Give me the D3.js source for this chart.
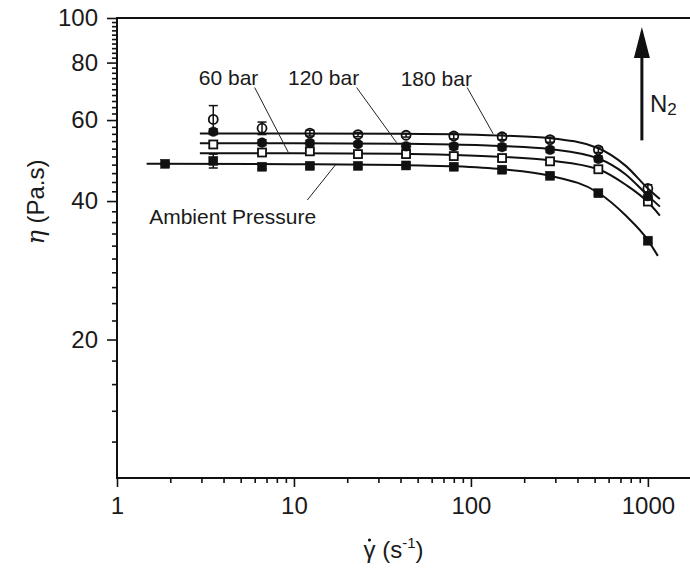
<!DOCTYPE html>
<html>
<head>
<meta charset="utf-8">
<script src="https://cdn.jsdelivr.net/npm/d3@7"></script>
<style>
  html, body { margin: 0; padding: 0; background: #fff; }
  svg { display: block; }
  text { font-family: "Liberation Sans", Arial, Helvetica, sans-serif; fill: #1a1a1a; }
</style>
</head>
<body>
<script>
// Shear rates (1/s) at which viscosity was measured
const shearRates = [1.87, 3.5, 6.6, 12.3, 23, 43, 80, 150, 280, 525, 1000];

// Measured viscosity (Pa.s) for each pressure condition
const etaAmbient = [48.2, 48.9, 47.5, 47.7, 47.7, 47.8, 47.5, 46.8, 45.4, 41.6, 32.8];
const eta60 = [null, 53.1, 51.0, 51.3, 50.6, 50.6, 50.1, 49.6, 48.8, 46.9, 39.9];
const eta120 = [null, 56.6, 53.6, 53.5, 53.2, 52.6, 52.6, 52.4, 51.7, 49.4, 41.0];
const eta180 = [null, 60.2, 57.6, 56.2, 55.8, 55.6, 55.4, 55.2, 54.4, 51.7, 42.6];

// Error bar half-widths (Pa.s)
const errAmbient = [0.3, 1.7, 0.5, 0.5, 0.5, 0.5, 0.5, 0.5, 0.4, 0.4, 0.4];
const err60 = [null, 0.8, 0.8, 0.6, 0.6, 0.6, 0.6, 0.7, 0.6, 0.6, 0.6];
const err120 = [null, 0.8, 0.8, 0.7, 0.6, 0.8, 0.8, 0.8, 0.7, 0.7, 0.8];
const err180 = [null, 4.3, 1.8, 0.8, 0.6, 0.5, 0.8, 0.8, 0.7, 0.7, 0.8];

// Model fit curves
const fitRatesAmbient = [1.47, 10, 40, 80, 150, 280, 525, 750, 1000, 1138];
const fitAmbient = [48.2, 48.1, 47.9, 47.6, 46.9, 45.4, 41.7, 37.2, 32.9, 30.4];
const fitRatesPressure = [2.94, 10, 40, 80, 150, 280, 525, 750, 1000, 1169];
const fit60 = [50.8, 50.8, 50.7, 50.4, 49.9, 49.0, 46.9, 43.4, 39.8, 37.2];
const fit120 = [53.4, 53.4, 53.3, 53.1, 52.7, 51.9, 49.5, 45.7, 41.1, 38.9];
const fit180 = [56.1, 56.1, 56.0, 55.9, 55.5, 54.8, 52.1, 47.7, 42.6, 40.4];

// Axis ticks
const xMajorTicks = [1, 10, 100, 1000];
const xMinorTicks = [2, 3, 4, 5, 6, 7, 8, 9, 20, 30, 40, 50, 60, 70, 80, 90,
                     200, 300, 400, 500, 600, 700, 800, 900];
const yMajorTicks = [20, 40, 60, 80, 100];
const yMinorTicks = [12, 14, 16, 18, 22, 24, 26, 28, 30, 32, 34, 36, 38, 42, 44, 46, 48,
                     50, 52, 54, 56, 58, 62, 64, 66, 68, 70, 72, 74, 76, 78, 82, 84, 86,
                     88, 90, 92, 94, 96, 98];

// Curve labels: text, text anchor point, leader start, leader end (data units)
const curveLabels = ["60 bar", "120 bar", "180 bar", "Ambient Pressure"];
const labelAt = [[2.9, 71.5], [9.25, 71.5], [40.1, 71.2], [1.52, 35.7]];
const leaderFrom = [[6.0, 70.6], [22.6, 70.6], [95.3, 70.6], [11.9, 40.2]];
const leaderTo = [[9.3, 51.0], [38.0, 53.6], [133.6, 56.0], [17.2, 48.0]];

// Pressure arrow (N2)
const arrowRate = 925;
const arrowEta = [54.2, 95.6];

const W = 690, H = 570;
const svg = d3.select("body").append("svg").attr("width", W).attr("height", H);

const x = d3.scaleLog().domain([1, 1730]).range([117, 690]);
const y = d3.scaleLog().domain([10, 100]).range([478, 18]);

const font = '"Liberation Sans", Arial, Helvetica, sans-serif';

// ---- axes ----
function styleAxis(g) {
  g.selectAll("path.domain").remove();
  g.selectAll(".tick line").attr("stroke", "#111").attr("stroke-width", 1.6);
  g.selectAll(".tick text").attr("font-size", 24).attr("font-family", font).attr("fill", "#1a1a1a");
}

svg.append("g").attr("transform", `translate(0,${y(10)})`)
  .call(d3.axisBottom(x).tickValues(xMinorTicks).tickSize(5).tickFormat(""))
  .call(styleAxis);
svg.append("g").attr("transform", `translate(0,${y(10)})`)
  .call(d3.axisBottom(x).tickValues(xMajorTicks).tickSize(9).tickPadding(10).tickFormat(d3.format("d")))
  .call(styleAxis);

svg.append("g").attr("transform", `translate(${x(1)},0)`)
  .call(d3.axisLeft(y).tickValues(yMinorTicks).tickSize(5).tickFormat(""))
  .call(styleAxis);
svg.append("g").attr("transform", `translate(${x(1)},0)`)
  .call(d3.axisLeft(y).tickValues(yMajorTicks).tickSize(10).tickPadding(9).tickFormat(d3.format("d")))
  .call(styleAxis);

// frame lines: left, bottom, top
const frame = svg.append("g").attr("stroke", "#111").attr("stroke-width", 2).attr("fill", "none");
frame.append("line").attr("x1", x(1)).attr("x2", x(1)).attr("y1", y(100)).attr("y2", y(10) + 1);
frame.append("line").attr("x1", x(1) - 1).attr("x2", x.range()[1]).attr("y1", y(10)).attr("y2", y(10));
frame.append("line").attr("x1", x(1) - 1).attr("x2", x.range()[1]).attr("y1", y(100)).attr("y2", y(100));

// ---- fit curves ----
const line = d3.line().x(d => x(d[0])).y(d => y(d[1])).curve(d3.curveMonotoneX);
const fits = [
  [fitRatesAmbient, fitAmbient],
  [fitRatesPressure, fit60],
  [fitRatesPressure, fit120],
  [fitRatesPressure, fit180]
];
svg.append("g").selectAll("path").data(fits).join("path")
  .attr("d", f => line(f[0].map((r, i) => [r, f[1][i]])))
  .attr("fill", "none").attr("stroke", "#111").attr("stroke-width", 2);

// ---- measured points ----
const series = [
  { eta: etaAmbient, err: errAmbient, shape: "square", filled: true },
  { eta: eta60, err: err60, shape: "square", filled: false },
  { eta: eta120, err: err120, shape: "circle", filled: true },
  { eta: eta180, err: err180, shape: "circle", filled: false }
];

series.forEach(s => {
  const pts = shearRates.map((r, i) => ({ r, v: s.eta[i], e: s.err[i] })).filter(p => p.v != null);
  const g = svg.append("g");
  // error bars
  const eb = g.selectAll("g.eb").data(pts).join("g").attr("stroke", "#111").attr("stroke-width", 1.5);
  eb.append("line").attr("x1", p => x(p.r)).attr("x2", p => x(p.r))
    .attr("y1", p => y(p.v + p.e)).attr("y2", p => y(p.v - p.e));
  eb.append("line").attr("x1", p => x(p.r) - 4.5).attr("x2", p => x(p.r) + 4.5)
    .attr("y1", p => y(p.v + p.e)).attr("y2", p => y(p.v + p.e));
  eb.append("line").attr("x1", p => x(p.r) - 4.5).attr("x2", p => x(p.r) + 4.5)
    .attr("y1", p => y(p.v - p.e)).attr("y2", p => y(p.v - p.e));
  // markers
  if (s.shape === "square") {
    const side = s.filled ? 9 : 8;
    g.selectAll("rect").data(pts).join("rect")
      .attr("x", p => x(p.r) - side / 2).attr("y", p => y(p.v) - side / 2)
      .attr("width", side).attr("height", side)
      .attr("fill", s.filled ? "#111" : "#fff")
      .attr("stroke", "#111").attr("stroke-width", s.filled ? 0.5 : 1.8);
  } else {
    g.selectAll("circle").data(pts).join("circle")
      .attr("cx", p => x(p.r)).attr("cy", p => y(p.v))
      .attr("r", s.filled ? 4.8 : 4.5)
      .attr("fill", s.filled ? "#111" : "none")
      .attr("stroke", "#111").attr("stroke-width", s.filled ? 0.5 : 1.8);
  }
});

// ---- curve labels with leader lines ----
const ann = svg.append("g");
curveLabels.forEach((t, i) => {
  ann.append("line")
    .attr("x1", x(leaderFrom[i][0])).attr("y1", y(leaderFrom[i][1]))
    .attr("x2", x(leaderTo[i][0])).attr("y2", y(leaderTo[i][1]))
    .attr("stroke", "#222").attr("stroke-width", 1);
  ann.append("text")
    .attr("x", x(labelAt[i][0])).attr("y", y(labelAt[i][1]))
    .attr("font-size", 21).text(t);
});

// ---- N2 arrow ----
const ax = x(arrowRate), aTail = y(arrowEta[0]), aTip = y(arrowEta[1]);
svg.append("line").attr("x1", ax).attr("x2", ax).attr("y1", aTail).attr("y2", aTip + 28)
  .attr("stroke", "#111").attr("stroke-width", 3);
svg.append("path")
  .attr("d", `M${ax},${aTip} L${ax - 8},${aTip + 31} L${ax + 8},${aTip + 31} Z`)
  .attr("fill", "#111");
const n2 = svg.append("text").attr("x", ax + 8).attr("y", aTail - 28).attr("font-size", 24);
n2.append("tspan").text("N");
n2.append("tspan").attr("font-size", 17).attr("dy", 3).text("2");

// ---- axis titles ----
const yTitle = svg.append("text")
  .attr("transform", `translate(44,${(y(10) + y(100)) / 2 - 46}) rotate(-90)`)
  .attr("text-anchor", "middle").attr("font-size", 24);
yTitle.append("tspan").attr("font-style", "italic").attr("font-family", "DejaVu Serif, serif").text("η");
yTitle.append("tspan").text(" (Pa.s)");

const xTitle = svg.append("g");
const xt = xTitle.append("text").attr("y", 558).attr("font-size", 24);
const gam = xt.append("tspan").text("γ");
xt.append("tspan").text(" (s");
xt.append("tspan").attr("font-size", 15).attr("dy", -10).text("-1");
xt.append("tspan").attr("dy", 10).text(")");
const tw = xt.node().getComputedTextLength();
const cx = (x(1) + 690) / 2 - 10;
xt.attr("x", cx - tw / 2);
const gw = gam.node().getComputedTextLength();
xTitle.append("circle").attr("cx", cx - tw / 2 + gw / 2).attr("cy", 540).attr("r", 1.6).attr("fill", "#111");
</script>
</body>
</html>
